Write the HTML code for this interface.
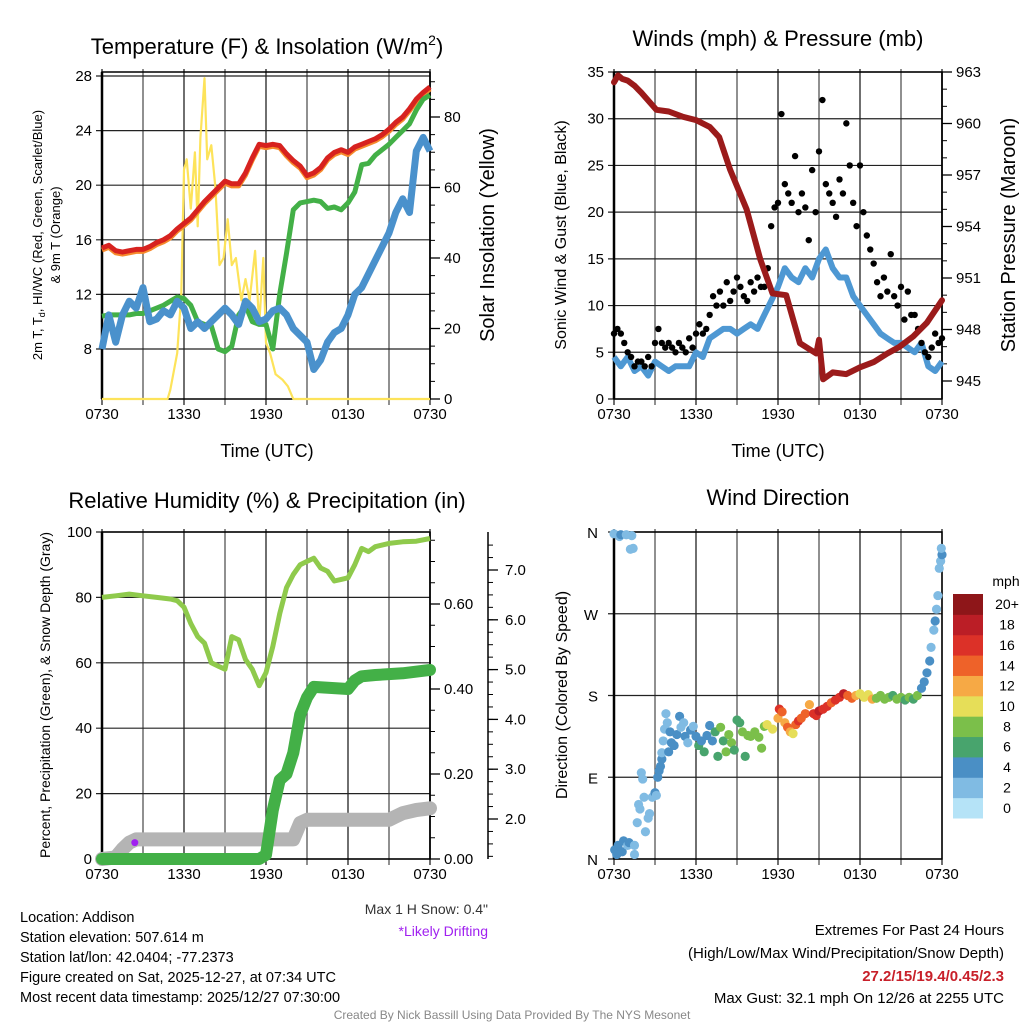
<!DOCTYPE html>
<html><head><meta charset="utf-8">
<style>
html,body{margin:0;padding:0;background:#fff;}
svg{display:block;font-family:"Liberation Sans",sans-serif;}
text{fill:#000;}
</style></head>
<body>
<svg id="root" width="1024" height="1024" viewBox="0 0 1024 1024">
<rect x="0" y="0" width="1024" height="1024" fill="#fff"/>
<g id="p1"></g>
<g id="p2"></g>
<g id="p3"></g>
<g id="p4"></g>

<text x="267" y="54" font-size="22" text-anchor="middle">Temperature (F) &amp; Insolation (W/m<tspan font-size="14" dy="-9">2</tspan><tspan dy="9">)</tspan></text>
<text x="778" y="46" font-size="22" text-anchor="middle">Winds (mph) &amp; Pressure (mb)</text>
<text x="267" y="508" font-size="22" text-anchor="middle">Relative Humidity (%) &amp; Precipitation (in)</text>
<text x="778" y="505" font-size="22" text-anchor="middle">Wind Direction</text>

<text x="267" y="457" font-size="18" text-anchor="middle">Time (UTC)</text>
<text x="778" y="457" font-size="18" text-anchor="middle">Time (UTC)</text>

<text transform="translate(42,235) rotate(-90)" font-size="13" text-anchor="middle">2m T, T<tspan font-size="9" dy="3">d</tspan><tspan dy="-3">, HI/WC (Red, Green, Scarlet/Blue)</tspan></text>
<text transform="translate(60,235) rotate(-90)" font-size="13" text-anchor="middle">&amp; 9m T (Orange)</text>
<text transform="translate(494,235) rotate(-90)" font-size="20" text-anchor="middle">Solar Insolation (Yellow)</text>
<text transform="translate(566,235) rotate(-90)" font-size="16" text-anchor="middle">Sonic Wind &amp; Gust (Blue, Black)</text>
<text transform="translate(1015,235) rotate(-90)" font-size="20" text-anchor="middle">Station Pressure (Maroon)</text>
<text transform="translate(50,695) rotate(-90)" font-size="14" text-anchor="middle">Percent, Precipitation (Green), &amp; Snow Depth (Gray)</text>
<text transform="translate(567,695) rotate(-90)" font-size="16" text-anchor="middle">Direction (Colored By Speed)</text>

<text x="488" y="914" font-size="14" text-anchor="end" style="fill:#333">Max 1 H Snow: 0.4"</text>
<text x="488" y="936" font-size="14" text-anchor="end" style="fill:#a020f0">*Likely Drifting</text>

<g font-size="14.5">
<text x="20" y="922">Location: Addison</text>
<text x="20" y="942">Station elevation: 507.614 m</text>
<text x="20" y="962">Station lat/lon: 42.0404; -77.2373</text>
<text x="20" y="982">Figure created on Sat, 2025-12-27, at 07:34 UTC</text>
<text x="20" y="1002">Most recent data timestamp: 2025/12/27 07:30:00</text>
</g>
<g font-size="15">
<text x="1004" y="935" text-anchor="end">Extremes For Past 24 Hours</text>
<text x="1004" y="958" text-anchor="end">(High/Low/Max Wind/Precipitation/Snow Depth)</text>
<text x="1004" y="981" text-anchor="end" font-weight="bold" style="fill:#c8202a">27.2/15/19.4/0.45/2.3</text>
<text x="1004" y="1003" text-anchor="end">Max Gust: 32.1 mph On 12/26 at 2255 UTC</text>
</g>
<text x="512" y="1019" font-size="12" text-anchor="middle" style="fill:#888">Created By Nick Bassill Using Data Provided By The NYS Mesonet</text>
</svg>

<script>
// ---------- DATA ----------
const xTickLabels = ["0730","1330","1930","0130","0730"];
const xTickHours = [0,6,12,18,24];

// Temperature panel (half-hour steps, 0..24h)
const tHours = [0,0.5,1,1.5,2,2.5,3,3.5,4,4.5,5,5.5,6,6.5,7,7.5,8,8.5,9,9.5,10,10.5,11,11.5,12,12.5,13,13.5,14,14.5,15,15.5,16,16.5,17,17.5,18,18.5,19,19.5,20,20.5,21,21.5,22,22.5,23,23.5,24];
const tempRed = [15.4,15.6,15.2,15.1,15.2,15.3,15.3,15.5,15.8,16.0,16.3,16.8,17.2,17.6,18.2,18.8,19.3,19.8,20.3,20.1,20.1,20.9,22.0,23.0,22.9,23.0,22.9,22.3,21.8,21.4,20.7,20.9,21.3,22.0,22.4,22.6,22.4,22.8,23.0,23.2,23.4,23.7,24.1,24.6,25.0,25.6,26.3,26.8,27.2];
const tempGreen = [10.4,10.5,10.5,10.5,10.5,10.6,10.6,10.8,11.0,11.2,11.5,11.8,11.7,11.2,10.0,9.8,9.7,8.0,7.8,8.2,10.5,11.2,10.0,9.8,9.8,8.0,12.0,15.0,18.2,18.7,18.8,18.9,18.8,18.3,18.4,18.2,18.7,19.5,21.5,21.6,22.2,22.6,23.0,23.5,24.0,24.5,25.5,26.3,26.6];
const tempBlue = [8.0,10.5,8.5,10.5,11.5,11.0,12.5,10.0,10.2,10.8,10.5,11.5,11.0,9.5,10.0,9.5,10.0,10.5,11.0,10.5,9.8,11.5,11.0,10.0,10.2,10.8,11.0,10.5,9.5,9.0,8.5,6.5,7.2,8.5,9.2,9.5,10.5,12.0,12.5,13.5,14.5,15.5,16.5,18.0,19.0,18.0,22.5,23.5,22.5];
const insolHours = [0,4.8,5,5.5,5.8,6,6.2,6.5,6.8,7,7.2,7.5,7.7,8,8.3,8.6,8.9,9.2,9.5,9.8,10.2,10.5,10.8,11.2,11.5,11.8,12,12.3,12.7,13.2,13.6,14,24];
const insolVals = [0,0,2.6,13,30,65,68,54,70,49,74,91,68,72,60,38,40,51,38,40,28,34,28,42,21,40,16,13,7,5.5,3.6,0,0];
const tempTicks = [8,12,16,20,24,28];
const insolTicks = [0,20,40,60,80];

// Winds panel
const windHours = tHours;
const windVals = [4.5,3.5,4.5,3,3.5,2.5,4,3.5,3,3.5,3.5,3.5,5,4.5,6.5,7,7.5,7.5,7,7.5,8,7.5,9,10.5,12,14,13,12.5,14,13,15,16,14,13,13,11,10,9,8,7,6.5,6,6,5.5,5,6,3.5,3,4];
const gustVals = [7,7.5,7,6, 5,4.5,3.5,4, 4,3.5,4.5,3.5, 6,7.5,6,5.5, 6,5.5,5,6, 5.5,5,6.5,5.5, 7,8,7,7.5, 9,11,10,11.5, 10,12.5,10.5,11.5, 13,12,11,10.5, 12.5,11.5,13,12, 12,14,18.5,20.5, 21,30.5,23,22, 21,26,20,22, 20.5,17,24.5,20, 26.5,32,23,22, 21,19.5,23.5,22, 29.5,25,21,18.5, 25,20,17.5,16, 14.5,12.5,11,13, 11.5,15.5,11,10, 12,8.5,11.5,9, 9,7.5,6,5, 4.5,5.5,7,6, 6.5];
const presHours = [0,0.3,0.6,1,1.5,2,3.1,4,5,6,7,7.7,8.5,9.7,10.7,11.6,12.6,13.6,14.8,15.0,15.3,16,17,18,19,20,20.9,21.9,22.9,24];
const presVals = [962.4,962.8,962.6,962.5,962.2,961.8,960.8,960.7,960.4,960.2,959.8,959.2,957.3,955.0,952.1,950.1,950.0,947.2,946.6,947.4,945.1,945.5,945.4,945.8,946.1,946.6,947.0,947.6,948.4,949.7];
const windTicks = [0,5,10,15,20,25,30,35];
const presTicks = [945,948,951,954,957,960,963];

// Humidity panel
const rhHours = [0,1,2,3,4,5,5.5,6,6.5,7,7.5,8,8.5,9,9.5,10,10.5,11,11.5,12,12.5,13,13.5,14,14.5,15,15.5,16,16.5,17,17.5,18,18.5,19,19.5,20,21,22,23,24];
const rhVals = [80,80.5,81,80.5,80,79.5,79,77,72,68,66,60,59,58,68,67,61,58,53,57,65,75,83,87,90,91,92,89,88,85,85.5,86,90,95,94,95.5,96.5,97,97.2,98];
const precipHours = [0,11.5,12,12.5,13,13.5,14,14.5,15,15.5,18,18.5,19,20,22,24];
const precipVals = [0,0,0.01,0.115,0.186,0.2,0.25,0.34,0.38,0.405,0.40,0.42,0.43,0.433,0.437,0.445];
const snowHours = [0,1,1.5,2,2.5,14,14.5,15,21,21.5,22,23,24];
const snowVals = [0,0.5,3,5,6,6,11,12,12,13,14,15,15.5];
const rhTicks = [0,20,40,60,80,100];
const precipTicks = [0,0.2,0.4,0.6];
const precipTickLabels = ["0.00","0.20","0.40","0.60"];
const snowTicks = [2,3,4,5,6,7];
const snowTickLabels = ["2.0","3.0","4.0","5.0","6.0","7.0"];

// Direction panel
const dirHours = [0,0.05,0.2,0.3,0.4,0.5,0.6,0.7,0.9,1.0,1.1,1.3,1.2,1.4,1.5,1.5,1.7,1.8,1.9,2.0,2.1,2.2,2.3,2.5,2.6,2.8,3.0,3.1,3.2,3.3,3.4,3.5,3.5,3.6,3.7,3.8,3.9,4.1,4.0,4.2,4.4,4.6,4.8,4.9,5.1,5.2,5.4,5.6,5.8,6.0,6.2,6.4,6.6,6.8,7.0,7.2,7.4,7.6,7.8,8.0,8.2,8.4,8.6,8.8,9.0,9.2,9.4,9.6,9.8,10.0,10.3,10.6,10.8,11.0,11.2,11.6,12.0,12.1,12.3,12.5,12.7,12.9,13.1,13.3,13.5,13.7,14.0,14.3,14.6,14.8,15.0,15.3,15.6,15.9,16.2,16.5,16.8,17.1,17.4,17.7,18.0,18.3,18.6,18.9,19.2,19.5,19.8,20.1,20.4,20.7,21.0,21.3,21.6,21.9,22.2,22.5,22.7,22.9,23.1,23.2,23.4,23.5,23.6,23.7,23.8,23.9,24.0,23.95];
const dirDeg = [358,10,5,15,355,357,8,20,357,15,18,356,341,342,15,5,40,60,55,95,88,68,30,45,50,68,73,70,90,97,102,110,117,130,143,160,150,140,118,128,125,137,157,145,150,135,128,142,146,135,125,130,118,136,147,130,140,113,145,130,118,137,128,120,153,150,140,113,136,135,140,134,122,146,148,143,155,165,162,150,145,140,138,148,152,155,160,170,160,158,163,165,168,172,175,178,182,180,177,180,182,178,181,176,177,180,176,178,180,176,178,175,178,176,180,188,195,205,218,233,252,262,275,290,320,328,335,342];
const dirSpd = [2,4,4,4,3,4,4,4,2,3,4,2,2,2,2,2,2,2,2,2,2,2,2,2,2,2,4,2,4,4,4,4,2,2,2,2,2,4,4,4,4,4,4,2,2,4,2,4,2,4,6,4,6,4,4,4,6,6,8,6,8,8,8,6,6,6,8,6,8,8,8,8,8,8,10,10,12,16,14,12,14,12,10,14,16,14,14,12,16,16,18,16,16,14,16,16,18,14,14,12,10,10,10,12,8,8,8,8,6,8,8,6,8,6,8,4,4,4,4,2,2,4,2,2,2,2,4,2];
const dirTicks = [0,90,180,270,360];
const dirTickLabels = ["N","E","S","W","N"];
const speedBins = [0,2,4,6,8,10,12,14,16,18,20];
const speedLabels = ["0","2","4","6","8","10","12","14","16","18","20+"];
const speedColors = ["#b5e3f7","#80bbe3","#4a8fc5","#48a46d","#7bbf4a","#e6de58","#f6a945","#ee6229","#dc3128","#bb1e26","#8e1619"];

// ---------- HELPERS ----------
const NS = "http://www.w3.org/2000/svg";
function el(parent, tag, attrs){ const e=document.createElementNS(NS,tag); for(const k in attrs) e.setAttribute(k,attrs[k]); parent.appendChild(e); return e; }
function xScale(x0,x1){ return h => x0 + (x1-x0)*h/24; }
function lin(d0,d1,r0,r1){ return v => r0 + (v-d0)*(r1-r0)/(d1-d0); }
function pathD(xs,ys,fx,fy){ return xs.map((h,i)=>(i?"L":"M")+fx(h).toFixed(1)+","+fy(ys[i]).toFixed(1)).join(""); }

function frame(g, x0,y0,x1,y1, yTicks, fy, yLabels){
  const fx = xScale(x0,x1);
  for(let h=0;h<=24;h+=3){
    const v = el(g,"line",{x1:fx(h),x2:fx(h),y1:y0-3,y2:y1+6,stroke:(h%6? "#555":"#222"),"stroke-width":1.3});
    
    
  }
  yTicks.forEach((t,i)=>{
    const yy=fy(t);
    const l = el(g,"line",{x1:x0-6,x2:x1,y1:yy,y2:yy,stroke:"#222","stroke-width":1.2});
    
    
    if(yLabels){
      const tx = el(g,"text",{x:x0-10,y:yy+5,"font-size":15,"text-anchor":"end"});
      tx.textContent = yLabels[i];
      
      
    }
  });
  xTickHours.forEach((h,i)=>{
    const tx = el(g,"text",{x:fx(h),y:y1+20,"font-size":15,"text-anchor":"middle"});
    tx.textContent = xTickLabels[i];
    
    
  });
  const b = el(g,"rect",{x:x0,y:y0,width:x1-x0,height:y1-y0,fill:"none",stroke:"#000","stroke-width":1.5});
  
  
  const lax = el(g,"line",{x1:x0,x2:x0,y1:y0,y2:y1,stroke:"#000","stroke-width":2.5});
  
  
  return fx;
}
function rightAxis(g, x, y0, y1, ticks, fy, labels, minorStep, dmin, dmax, lx){
  const ax = el(g,"line",{x1:x,x2:x,y1:y0,y2:y1,stroke:"#000","stroke-width":1.5});
  
  
  if(minorStep){
    for(let v=dmin; v<=dmax+1e-9; v+=minorStep){
      const yy=fy(v); if(yy<y0-1||yy>y1+1) continue;
      const m = el(g,"line",{x1:x,x2:x+5,y1:yy,y2:yy,stroke:"#000","stroke-width":1});
      
      
    }
  }
  ticks.forEach((t,i)=>{
    const yy=fy(t);
    const tk = el(g,"line",{x1:x,x2:x+10,y1:yy,y2:yy,stroke:"#000","stroke-width":1.3});
    
    
    const tx = el(g,"text",{x:lx||x+14,y:yy+5,"font-size":15,"text-anchor":"start"});
    tx.textContent = labels[i];
    
    
  });
}

// ---------- PANEL 1 ----------
(function(){
  const g=document.getElementById("p1");
  const fy = lin(28,8,76,349);
  const fyI = lin(0,80,399,117);
  const ticks=[8,12,16,20,24,28];
  const fx = frame(g,102,72,430,399,ticks,fy,ticks.map(String));
  rightAxis(g,430,72,399,insolTicks,fyI,insolTicks.map(String),5,0,90);
  const y = el(g,"path",{d:pathD(insolHours,insolVals,fx,fyI),fill:"none",stroke:"#fde35a","stroke-width":2.2,"stroke-linejoin":"round"});
  
  
  const o = el(g,"path",{d:pathD(tHours,tempRed.map(v=>v-0.15),fx,fy),fill:"none",stroke:"#f68a2c","stroke-width":5,"stroke-linejoin":"round"});
  
  
  const gr = el(g,"path",{d:pathD(tHours,tempGreen,fx,fy),fill:"none",stroke:"#43b047","stroke-width":5,"stroke-linejoin":"round"});
  
  
  const r = el(g,"path",{d:pathD(tHours,tempRed,fx,fy),fill:"none",stroke:"#d7221f","stroke-width":5,"stroke-linejoin":"round"});
  
  
  const b = el(g,"path",{d:pathD(tHours,tempBlue,fx,fy),fill:"none",stroke:"#4a91cc","stroke-width":7,"stroke-linejoin":"round"});
  
  
})();

// ---------- PANEL 2 ----------
(function(){
  const g=document.getElementById("p2");
  const fy = lin(0,35,399,72);
  const fyP = lin(945,963,381,72);
  const fx = frame(g,614,72,942,399,windTicks,fy,windTicks.map(String));
  rightAxis(g,942,72,399,presTicks,fyP,presTicks.map(String),1,945,963);
  const b = el(g,"path",{d:pathD(windHours,windVals,fx,fy),fill:"none",stroke:"#4e98d3","stroke-width":6,"stroke-linejoin":"round"});
  
  
  gustVals.forEach((v,i)=>{
    const c = el(g,"circle",{cx:fx(i*0.25),cy:fy(v),r:3.2,fill:"#000"});
    
    
  });
  const p = el(g,"path",{d:pathD(presHours,presVals,fx,fyP),fill:"none",stroke:"#9b1b1b","stroke-width":6,"stroke-linejoin":"round","stroke-linecap":"round"});
  
  
})();

// ---------- PANEL 3 ----------
(function(){
  const g=document.getElementById("p3");
  const fy = lin(0,100,859,532);
  const fyP = lin(0,0.2,859,774);
  const fyS = lin(2,7,819,570);
  const fx = frame(g,102,532,430,859,rhTicks,fy,rhTicks.map(String));
  rightAxis(g,430,532,859,precipTicks,fyP,precipTickLabels,0.05,0,0.75);
  rightAxis(g,488,532,859,snowTicks,fyS,snowTickLabels,0.25,1,7.5,505);
  const s = el(g,"path",{d:pathD(snowHours,snowVals,fx,fy),fill:"none",stroke:"#b4b4b4","stroke-width":14,"stroke-linejoin":"round","stroke-linecap":"round"});
  
  
  const pp = el(g,"circle",{cx:fx(2.4),cy:fy(5),r:3.5,fill:"#a020f0"});
  
  
  const pr = el(g,"path",{d:pathD(precipHours,precipVals,fx,fyP),fill:"none",stroke:"#43b047","stroke-width":12,"stroke-linejoin":"round","stroke-linecap":"round"});
  
  
  const rh = el(g,"path",{d:pathD(rhHours,rhVals,fx,fy),fill:"none",stroke:"#8fca4c","stroke-width":5,"stroke-linejoin":"round"});
  
  
})();

// ---------- PANEL 4 ----------
(function(){
  const g=document.getElementById("p4");
  const fy = lin(0,360,859,532);
  const fx = frame(g,614,532,942,859,dirTicks,fy,null);
  dirTicks.forEach((t,i)=>{
    const tx = el(g,"text",{x:598,y:fy(t)+6,"font-size":15,"text-anchor":"end"});
    tx.textContent = dirTickLabels[i];
    
    
  });
  function colorFor(s){ let idx=0; speedBins.forEach((b,i)=>{ if(s>=b) idx=i; }); return speedColors[idx]; }
  dirHours.forEach((h,i)=>{
    const c = el(g,"circle",{cx:fx(h),cy:fy(dirDeg[i]),r:4.6,fill:colorFor(dirSpd[i])});
    
    
  });
  const cbTop=594, cbBot=818, n=speedColors.length, hgt=(cbBot-cbTop)/n;
  speedColors.forEach((col,i)=>{
    const k = n-1-i;
    const r = el(g,"rect",{x:953,y:cbTop+k*hgt,width:30,height:hgt+0.5,fill:col});
    
    
    const t = el(g,"text",{x:1007,y:cbTop+k*hgt+hgt/2+5,"font-size":14,"text-anchor":"middle"});
    t.textContent = speedLabels[i];
    
    
  });
  const mt = el(g,"text",{x:1006,y:586,"font-size":14,"text-anchor":"middle"});
  mt.textContent = "mph";
  
  
})();
</script>
</body></html>
